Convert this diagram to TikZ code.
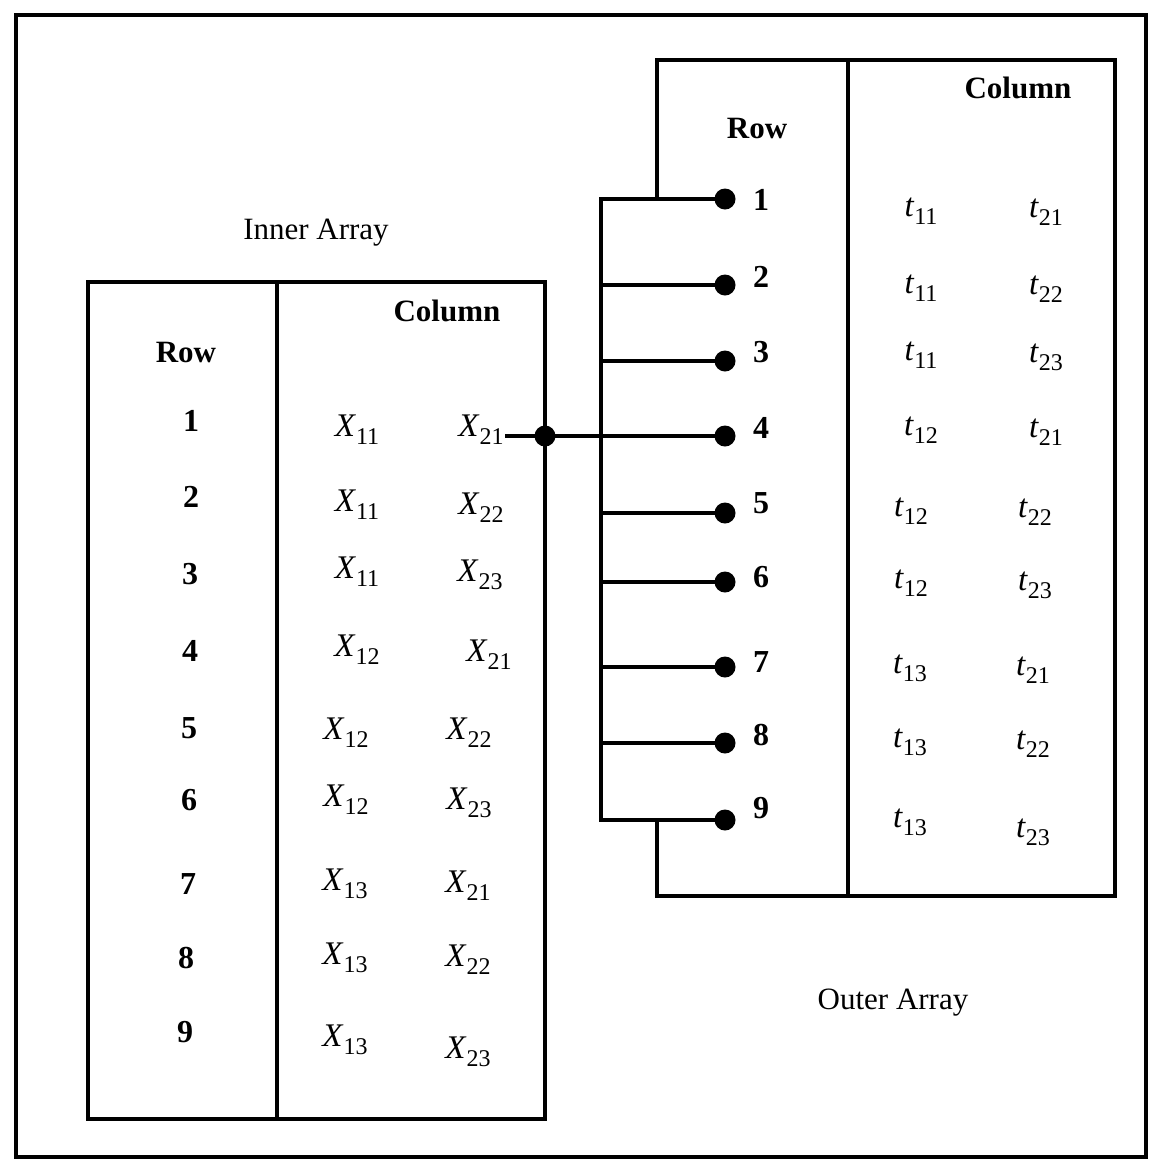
\documentclass[tikz,border=0pt]{standalone}
\usepackage{fontspec}
\setmainfont{Liberation Serif}
\newcommand{\ent}[2]{\textit{#1}\raisebox{-8pt}{\fontsize{24}{24}\selectfont #2}}
\begin{document}
\begin{tikzpicture}[x=1pt,y=-1pt,line width=3.2pt,
  dotnode/.style={circle,fill,draw=none,inner sep=0pt,minimum size=21pt},
  num/.style={font=\fontsize{32}{32}\selectfont\bfseries,inner sep=0pt},
  hdr/.style={font=\fontsize{31}{31}\selectfont\bfseries,inner sep=0pt},
  lbl/.style={font=\fontsize{31}{31}\selectfont,inner sep=0pt},
  entry/.style={font=\fontsize{33}{33}\selectfont,inner sep=0pt}]
\useasboundingbox (0,0) rectangle (1149,1163);
% outer frame
\draw (16,15) rectangle (1146,1157);
% inner array box
\draw (88,282) rectangle (545,1119);
\draw (277,282) -- (277,1119);
% outer array box
\coordinate (otl) at (657,60);
\coordinate (otr) at (1115,60);
\coordinate (obr) at (1115,896);
\coordinate (obl) at (657,896);
\draw (657,199) -- (otl) -- (otr) -- (obr) -- (obl) -- (657,820);
\draw (848,60) -- (848,896);
% labels
\node[lbl] (innerlbl) at (316,233) {Inner Array};
\node[lbl] (outerlbl) at (893,1003) {Outer Array};
\node[hdr] (icol) at (447,311) {Column};
\node[hdr] (irow) at (186,352) {Row};
\node[hdr] (ocol) at (1018,88) {Column};
\node[hdr] (orow) at (757,128) {Row};
% inner row numbers
\foreach \n/\x/\y in {1/191/421,2/191/497,3/190/574,4/190/651,5/189/728,6/189/800,7/188/884,8/186/958,9/185/1032}
  \node[num] (ir\n) at (\x,\y) {\n};
% inner entries
\foreach \n/\xa/\ya/\sa/\xb/\yb/\sb in {1/357/430/11/481/430/21,2/357/505/11/481/508/22,3/357/572/11/480/575/23,4/357/650/12/489/655/21,5/346/733/12/469/733/22,6/346/800/12/469/803/23,7/345/884/13/468/886/21,8/345/958/13/468/960/22,9/345/1040/13/468/1052/23}
{
  \node[entry] (xa\n) at (\xa,\ya) {\ent{X}{\sa}};
  \node[entry] (xb\n) at (\xb,\yb) {\ent{X}{\sb}};
}
% outer entries
\foreach \n/\xa/\ya/\sa/\xb/\yb/\sb in {1/921/211/11/1046/212/21,2/921/288/11/1046/289/22,3/921/355/11/1046/357/23,4/921/430/12/1046/432/21,5/911/511/12/1035/512/22,6/911/583/12/1035/585/23,7/910/668/13/1033/670/21,8/910/742/13/1033/744/22,9/910/822/13/1033/832/23}
{
  \node[entry] (ta\n) at (\xa,\ya) {\ent{t}{\sa}};
  \node[entry] (tb\n) at (\xb,\yb) {\ent{t}{\sb}};
}
% outer row dots, numbers and bus
\foreach \n/\y/\ny in {1/199/200,2/285/277,3/361/352,4/436/428,5/513/503,6/582/577,7/667/662,8/743/735,9/820/808}
{
  \coordinate (b\n) at (601,\y);
  \node[dotnode] (d\n) at (725,\y) {};
  \node[num] (or\n) at (761,\ny) {\n};
}
\draw (d1.center) -- (b1) -- (b9) -- (d9.center);
\foreach \n in {2,...,8} \draw (b\n) -- (d\n.center);
% link from inner row 1 to outer row 4
\node[dotnode] (j) at (545,436) {};
\draw (xb1.east |- j) -- (j.center) -- (d4.center);
\end{tikzpicture}
\end{document}
